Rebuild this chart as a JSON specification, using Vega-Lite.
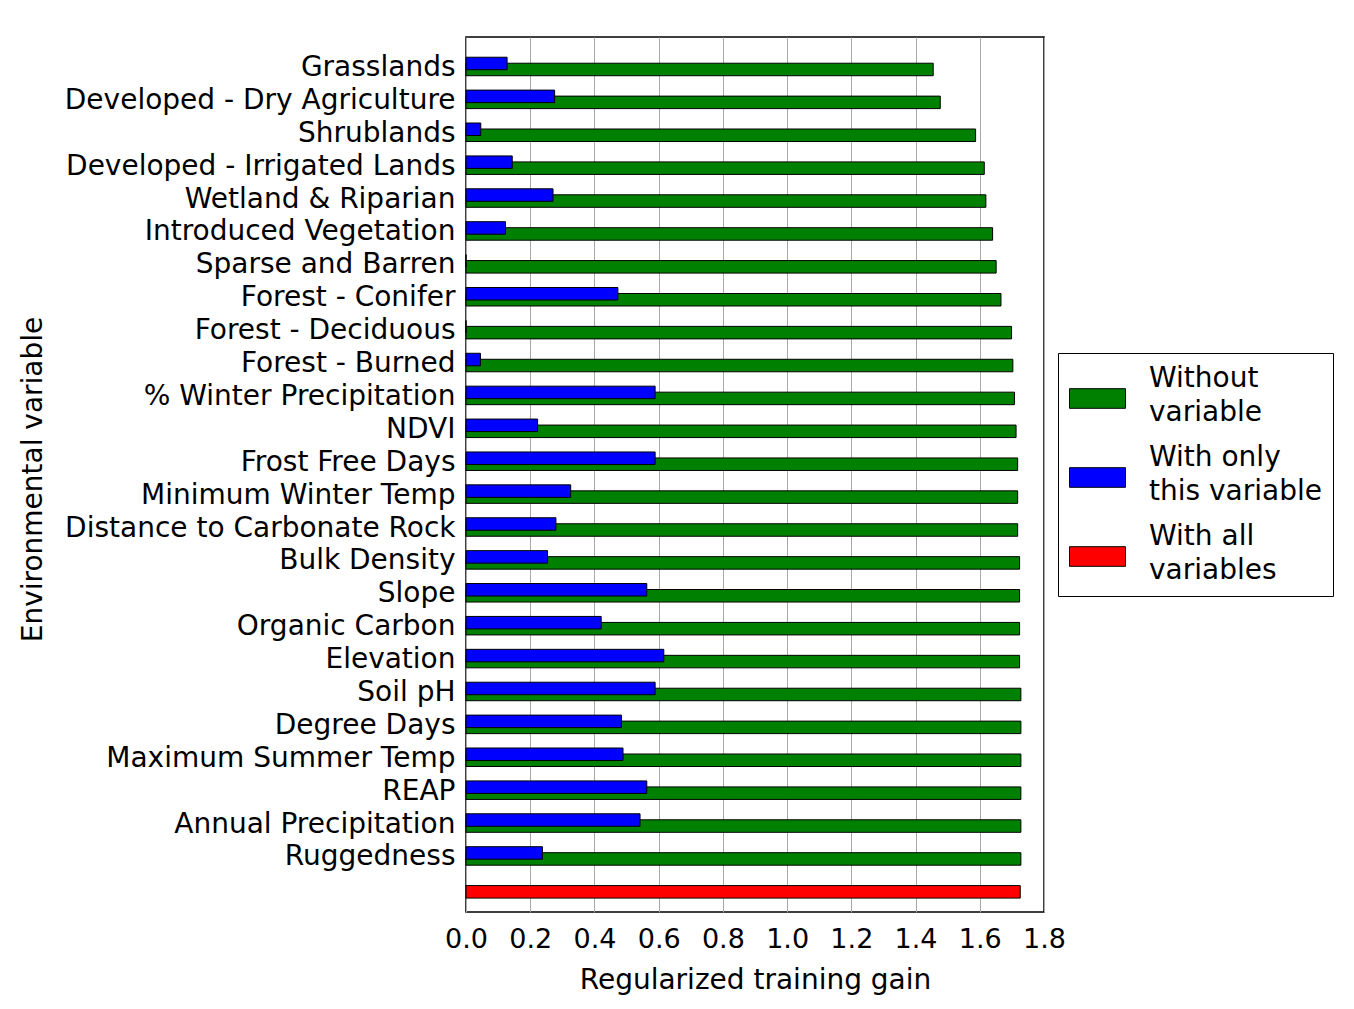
{
  "$schema": "https://vega.github.io/schema/vega-lite/v6.json",
  "width": 578,
  "height": 875,
  "autosize": {"type": "none"},
  "padding": {"left": 466, "top": 37, "right": 310, "bottom": 97},
  "background": "white",
  "config": {
    "font": "DejaVu Sans",
    "view": {"stroke": "#000000", "strokeWidth": 1.5},
    "axis": {
      "labelFont": "DejaVu Sans",
      "titleFont": "DejaVu Sans",
      "labelColor": "#000000",
      "titleColor": "#000000",
      "titleFontWeight": "normal",
      "labelFontSize": 28,
      "titleFontSize": 28,
      "domain": false
    },
    "legend": {
      "labelFont": "DejaVu Sans",
      "labelColor": "#000000",
      "labelFontSize": 28
    }
  },
  "data": {
    "values": [
      {"variable": "Grasslands", "series": "Without variable", "gain": 1.455},
      {"variable": "Grasslands", "series": "With only this variable", "gain": 0.128},
      {"variable": "Developed - Dry Agriculture", "series": "Without variable", "gain": 1.477},
      {"variable": "Developed - Dry Agriculture", "series": "With only this variable", "gain": 0.276},
      {"variable": "Shrublands", "series": "Without variable", "gain": 1.587},
      {"variable": "Shrublands", "series": "With only this variable", "gain": 0.046},
      {"variable": "Developed - Irrigated Lands", "series": "Without variable", "gain": 1.614},
      {"variable": "Developed - Irrigated Lands", "series": "With only this variable", "gain": 0.144},
      {"variable": "Wetland & Riparian", "series": "Without variable", "gain": 1.619},
      {"variable": "Wetland & Riparian", "series": "With only this variable", "gain": 0.271},
      {"variable": "Introduced Vegetation", "series": "Without variable", "gain": 1.640},
      {"variable": "Introduced Vegetation", "series": "With only this variable", "gain": 0.123},
      {"variable": "Sparse and Barren", "series": "Without variable", "gain": 1.651},
      {"variable": "Sparse and Barren", "series": "With only this variable", "gain": 0},
      {"variable": "Forest - Conifer", "series": "Without variable", "gain": 1.666},
      {"variable": "Forest - Conifer", "series": "With only this variable", "gain": 0.473},
      {"variable": "Forest - Deciduous", "series": "Without variable", "gain": 1.699},
      {"variable": "Forest - Deciduous", "series": "With only this variable", "gain": 0},
      {"variable": "Forest - Burned", "series": "Without variable", "gain": 1.703},
      {"variable": "Forest - Burned", "series": "With only this variable", "gain": 0.045},
      {"variable": "% Winter Precipitation", "series": "Without variable", "gain": 1.708},
      {"variable": "% Winter Precipitation", "series": "With only this variable", "gain": 0.589},
      {"variable": "NDVI", "series": "Without variable", "gain": 1.713},
      {"variable": "NDVI", "series": "With only this variable", "gain": 0.223},
      {"variable": "Frost Free Days", "series": "Without variable", "gain": 1.718},
      {"variable": "Frost Free Days", "series": "With only this variable", "gain": 0.589},
      {"variable": "Minimum Winter Temp", "series": "Without variable", "gain": 1.718},
      {"variable": "Minimum Winter Temp", "series": "With only this variable", "gain": 0.326},
      {"variable": "Distance to Carbonate Rock", "series": "Without variable", "gain": 1.718},
      {"variable": "Distance to Carbonate Rock", "series": "With only this variable", "gain": 0.280},
      {"variable": "Bulk Density", "series": "Without variable", "gain": 1.724},
      {"variable": "Bulk Density", "series": "With only this variable", "gain": 0.254},
      {"variable": "Slope", "series": "Without variable", "gain": 1.724},
      {"variable": "Slope", "series": "With only this variable", "gain": 0.563},
      {"variable": "Organic Carbon", "series": "Without variable", "gain": 1.724},
      {"variable": "Organic Carbon", "series": "With only this variable", "gain": 0.421},
      {"variable": "Elevation", "series": "Without variable", "gain": 1.724},
      {"variable": "Elevation", "series": "With only this variable", "gain": 0.616},
      {"variable": "Soil pH", "series": "Without variable", "gain": 1.728},
      {"variable": "Soil pH", "series": "With only this variable", "gain": 0.589},
      {"variable": "Degree Days", "series": "Without variable", "gain": 1.728},
      {"variable": "Degree Days", "series": "With only this variable", "gain": 0.484},
      {"variable": "Maximum Summer Temp", "series": "Without variable", "gain": 1.728},
      {"variable": "Maximum Summer Temp", "series": "With only this variable", "gain": 0.489},
      {"variable": "REAP", "series": "Without variable", "gain": 1.728},
      {"variable": "REAP", "series": "With only this variable", "gain": 0.563},
      {"variable": "Annual Precipitation", "series": "Without variable", "gain": 1.728},
      {"variable": "Annual Precipitation", "series": "With only this variable", "gain": 0.542},
      {"variable": "Ruggedness", "series": "Without variable", "gain": 1.728},
      {"variable": "Ruggedness", "series": "With only this variable", "gain": 0.238},
      {"variable": " ", "series": "With all variables", "gain": 1.726}
    ]
  },
  "encoding": {
    "y": {
      "field": "variable",
      "type": "nominal",
      "sort": ["Grasslands", "Developed - Dry Agriculture", "Shrublands", "Developed - Irrigated Lands", "Wetland & Riparian", "Introduced Vegetation", "Sparse and Barren", "Forest - Conifer", "Forest - Deciduous", "Forest - Burned", "% Winter Precipitation", "NDVI", "Frost Free Days", "Minimum Winter Temp", "Distance to Carbonate Rock", "Bulk Density", "Slope", "Organic Carbon", "Elevation", "Soil pH", "Degree Days", "Maximum Summer Temp", "REAP", "Annual Precipitation", "Ruggedness", " "],
      "scale": {"paddingInner": 0, "paddingOuter": 0.3, "align": 0.66},
      "axis": {
        "title": "Environmental variable",
        "ticks": false,
        "grid": false,
        "labelPadding": 11,
        "labelOffset": 1.5,
        "labelLimit": 0,
        "titleAngle": -90,
        "titleX": -433,
        "titleY": 442,
        "titleAlign": "center",
        "titleBaseline": "middle"
      }
    },
    "x": {
      "field": "gain",
      "type": "quantitative",
      "scale": {"domain": [0, 1.8], "nice": false, "zero": true},
      "axis": {
        "title": "Regularized training gain",
        "values": [0, 0.2, 0.4, 0.6, 0.8, 1.0, 1.2, 1.4, 1.6, 1.8],
        "format": ".1f",
        "grid": true,
        "gridColor": "#a8a8a8",
        "gridWidth": 1,
        "ticks": false,
        "labelFlush": false,
        "labelFontSize": 27,
        "labelBaseline": "alphabetic",
        "labelPadding": 35,
        "titleBaseline": "alphabetic",
        "titleY": 76
      }
    },
    "color": {
      "field": "series",
      "type": "nominal",
      "scale": {
        "domain": ["Without variable", "With only this variable", "With all variables"],
        "range": ["#008000", "#0000ff", "#ff0000"]
      },
      "legend": {
        "orient": "none",
        "legendX": 592,
        "legendY": 316,
        "title": " ",
        "titleFontSize": 1,
        "titlePadding": 5,
        "strokeColor": "#000000",
        "fillColor": "#ffffff",
        "padding": 11,
        "symbolType": "M-1,-0.35L1,-0.35L1,0.35L-1,0.35Z",
        "symbolSize": 3136,
        "symbolStrokeColor": "#000000",
        "symbolStrokeWidth": 1,
        "symbolOpacity": 1,
        "labelOffset": 23,
        "labelLimit": 0,
        "labelBaseline": "alphabetic",
        "rowPadding": 16,
        "labelExpr": "datum.label == 'Without variable' ? ['Without', 'variable'] : datum.label == 'With only this variable' ? ['With only', 'this variable'] : ['With all', 'variables']",
        "encoding": {
          "labels": {"lineHeight": {"value": 34.3}, "dy": {"value": -12}}
        }
      }
    }
  },
  "layer": [
    {
      "transform": [{"filter": "datum.series != 'With only this variable'"}],
      "mark": {"type": "bar", "height": 12.5, "yOffset": 3, "stroke": "#000000", "strokeWidth": 1, "opacity": 1}
    },
    {
      "transform": [{"filter": "datum.series == 'With only this variable'"}],
      "mark": {"type": "bar", "height": 12.5, "yOffset": -3, "stroke": "#000000", "strokeWidth": 1, "opacity": 1}
    }
  ]
}
